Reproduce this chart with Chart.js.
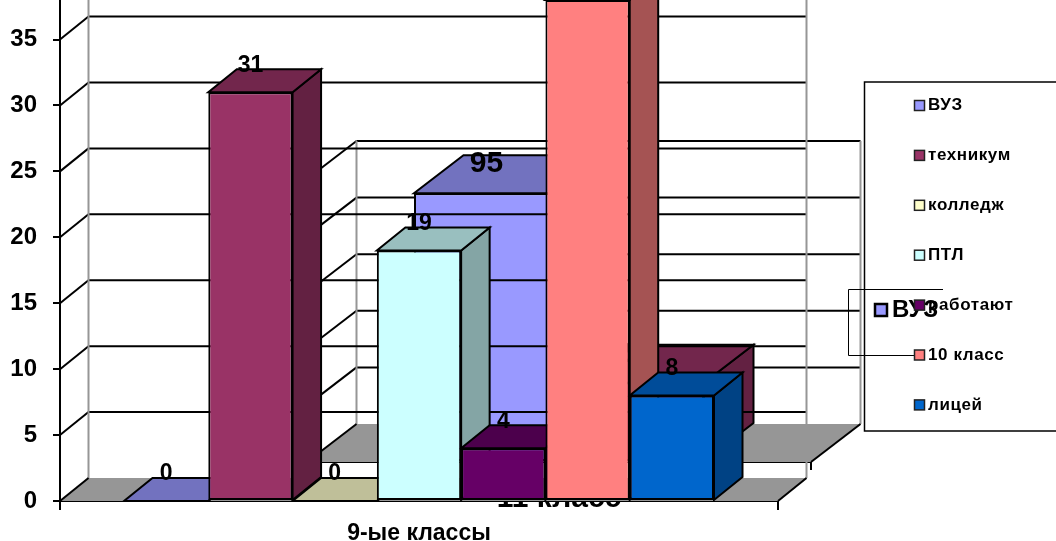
<!DOCTYPE html>
<html><head><meta charset="utf-8">
<style>html,body{margin:0;padding:0;background:#fff;overflow:hidden}
canvas{position:absolute;left:0;top:0}</style>
<script src="https://cdn.jsdelivr.net/npm/chart.js@4"></script>
</head><body>
<canvas id="back" width="1056" height="541"></canvas>
<canvas id="front" width="1056" height="541"></canvas>
<script>
const frontCategories=['9-ые классы'];
const frontSeries=['ВУЗ','техникум','колледж','ПТЛ','работают','10 класс','лицей'];
const frontValues=[0,31,0,19,4,38,8];
const frontColors=['#9999FF','#993366','#FFFFCC','#CCFFFF','#660066','#FF8080','#0066CC'];
const frontTicks=[0,5,10,15,20,25,30,35];
const backCategories=['11 класс'];
const backSeries=['ВУЗ','техникум'];
const backValues=[95,28];
const backColors=['#9999FF','#993366'];
const FONT='"Liberation Sans",Arial,sans-serif';

function shade(hex,k){const n=parseInt(hex.slice(1),16);
  return `rgb(${((n>>16)&255)*k|0},${((n>>8)&255)*k|0},${(n&255)*k|0})`;}
function poly(ctx,pts,fill,stroke,w){ctx.beginPath();pts.forEach((p,i)=>i?ctx.lineTo(p[0],p[1]):ctx.moveTo(p[0],p[1]));
  ctx.closePath();if(fill){ctx.fillStyle=fill;ctx.fill();}
  if(stroke){ctx.strokeStyle=stroke;ctx.lineWidth=w||2;ctx.stroke();}}
function line(ctx,x1,y1,x2,y2,c,w){ctx.beginPath();ctx.moveTo(x1,y1);ctx.lineTo(x2,y2);ctx.strokeStyle=c;ctx.lineWidth=w;ctx.stroke();}

function box3d(o){return{id:'box3d',
  beforeDatasetsDraw(chart){
    const ctx=chart.ctx,{x,y}=chart.scales,dx=o.dx,dy=o.dy,a=chart.chartArea;
    ctx.save();
    const L=a.left,R=a.right,B=y.getPixelForValue(0);
    poly(ctx,[[L,B],[R,B],[R+dx,B-dy],[L+dx,B-dy]],'#969696');
    y.ticks.forEach(t=>{if(t.value===0)return;const p=y.getPixelForValue(t.value);
      line(ctx,L,p,L+dx,p-dy,'#000',2);line(ctx,L+dx,p-dy,R+dx,p-dy,'#000',2);});
    const top=y.getPixelForValue(y.ticks[y.ticks.length-1].value)-dy;
    const wallTop=o.wallToTop?0:top;
    line(ctx,L+dx,wallTop,L+dx,B-dy,'#969696',2);
    line(ctx,R+dx,wallTop,R+dx,B-dy,'#969696',2);
    line(ctx,L,B,L+dx,B-dy,'#000',2);
    line(ctx,R,B,R+dx,B-dy,'#000',2);
    line(ctx,L,B,L,B+o.tick,'#000',2);
    line(ctx,R,B,R,B+o.tick,'#000',2);
    chart.data.datasets.forEach((ds,i)=>{
      const el=chart.getDatasetMeta(i).data[0],c=ds.backgroundColor,
        l=el.x-el.width/2,r=el.x+el.width/2,t=el.y,b=el.base;
      poly(ctx,[[r,t],[r+dx,t-dy],[r+dx,b-dy],[r,b]],shade(c,.65),'#000',2);
      poly(ctx,[[l,t],[r,t],[r+dx,t-dy],[l+dx,t-dy]],shade(c,.75),'#000',2);
    });
    ctx.restore();
  },
  afterDatasetsDraw(chart){
    const ctx=chart.ctx;ctx.save();
    ctx.fillStyle='#000';ctx.textAlign='center';ctx.textBaseline='middle';ctx.font=o.labelFont;
    chart.data.datasets.forEach((ds,i)=>{const el=chart.getDatasetMeta(i).data[0];
      ctx.fillText(String(ds.data[0]),el.x,el.y-o.labelUp);});
    ctx.restore();
  },
  afterDraw(chart){o.legend(chart,chart.ctx);}
};}

function frontLegend(chart,ctx){
  ctx.save();
  ctx.strokeStyle='#000';ctx.lineWidth=1.5;
  ctx.beginPath();ctx.moveTo(1060,82);ctx.lineTo(864.5,82);ctx.lineTo(864.5,431);ctx.lineTo(1060,431);ctx.stroke();
  ctx.font='bold 17px '+FONT;ctx.textBaseline='middle';ctx.textAlign='left';ctx.letterSpacing='0.6px';
  chart.data.datasets.forEach((ds,i)=>{const yy=105.5+i*49.9;
    ctx.fillStyle=ds.backgroundColor;ctx.fillRect(914.5,yy-5,10,10);
    ctx.strokeStyle='#222';ctx.lineWidth=1.5;ctx.strokeRect(914.5,yy-5,10,10);
    ctx.fillStyle='#000';ctx.fillText(ds.label,928,yy);});
  ctx.restore();
}
function backLegend(chart,ctx){
  ctx.save();
  ctx.strokeStyle='#000';ctx.lineWidth=1;
  ctx.beginPath();ctx.moveTo(943,289.5);ctx.lineTo(848.5,289.5);ctx.lineTo(848.5,355.5);ctx.lineTo(917,355.5);ctx.stroke();
  const ds=chart.data.datasets[0];
  ctx.fillStyle=ds.backgroundColor;ctx.fillRect(875,304,12,12);
  ctx.strokeStyle='#000';ctx.lineWidth=2.5;ctx.strokeRect(875,304,12,12);
  ctx.fillStyle='#000';ctx.font='bold 24px '+FONT;ctx.textBaseline='middle';ctx.textAlign='left';
  ctx.fillText(ds.label,892,310);
  ctx.restore();
}

function build(id,cats,names,vals,cols,cfg){
  return new Chart(document.getElementById(id),{
    type:'bar',
    data:{labels:cats,datasets:names.map((n,i)=>({label:n,data:[vals[i]],backgroundColor:cols[i],
      borderColor:'#000',borderWidth:2,borderSkipped:false,barPercentage:1,categoryPercentage:cfg.catPct}))},
    options:{responsive:false,animation:false,devicePixelRatio:1,
      layout:{padding:cfg.padding},
      plugins:{legend:{display:false},title:{display:false},tooltip:{enabled:false}},
      scales:{
        x:{grid:{display:false},border:{display:true,color:'#000',width:2},
          ticks:{color:'#000',font:{family:FONT,weight:'bold',size:cfg.xFont},padding:cfg.xPad,maxRotation:0},
          afterFit(s){s.height=cfg.xH;s.paddingLeft=0;s.paddingRight=0;}},
        y:{min:0,max:cfg.max,
          grid:{display:true,drawOnChartArea:false,drawTicks:true,tickLength:7,color:'#000',lineWidth:2},
          border:{display:true,color:'#000',width:2},
          ticks:cfg.yTicks,
          afterBuildTicks(s){s.ticks=cfg.ticks.map(v=>({value:v}));},
          afterFit(s){s.width=cfg.yW;s.paddingTop=0;s.paddingBottom=0;}}
      }},
    plugins:[box3d(cfg.d)]
  });
}
build('back',backCategories,backSeries,backValues,backColors,{
  catPct:290/504,padding:{right:245,top:179},xFont:30,xPad:11,xH:79,max:100,yW:307,
  ticks:[0,20,40,60,80,100],yTicks:{display:false},
  d:{dx:49.5,dy:38,tick:8,labelFont:'bold 30px '+FONT,labelUp:29,legend:backLegend}
});
build('front',frontCategories,frontSeries,frontValues,frontColors,{
  catPct:590/718,padding:{right:278,top:0},xFont:23,xPad:11,xH:40,max:38,yW:60,
  ticks:frontTicks,yTicks:{color:'#000',font:{family:FONT,weight:'bold',size:24},padding:16},
  d:{dx:28.5,dy:23,tick:9,wallToTop:true,labelFont:'bold 23px '+FONT,labelUp:27,legend:frontLegend}
});
</script>
</body></html>
